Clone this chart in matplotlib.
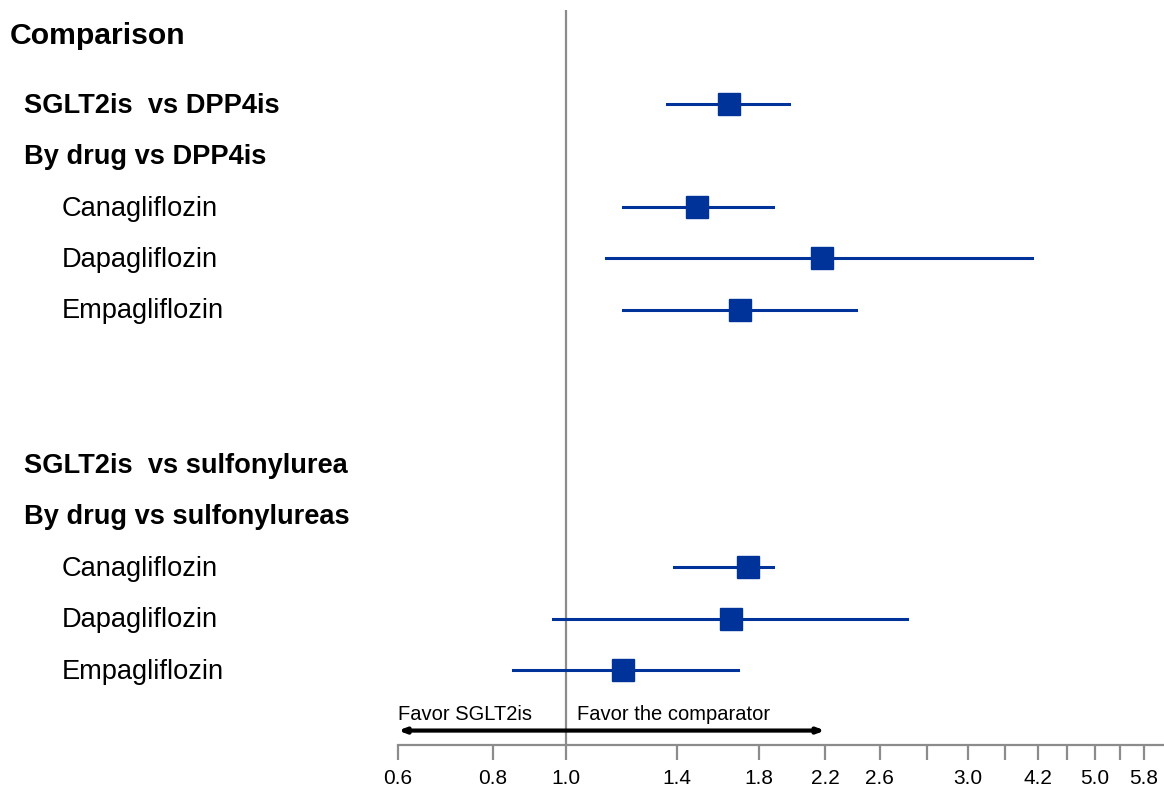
import matplotlib
matplotlib.use("Agg")
from matplotlib import pyplot as plt
from matplotlib import transforms

plt.rcParams['font.family'] = ['Liberation Sans', 'DejaVu Sans']

# Rows of the forest plot, top to bottom ("" = empty spacer row)
row_labels = ["SGLT2is  vs DPP4is", "By drug vs DPP4is", "Canagliflozin", "Dapagliflozin",
              "Empagliflozin", "", "", "SGLT2is  vs sulfonylurea", "By drug vs sulfonylureas",
              "Canagliflozin", "Dapagliflozin", "Empagliflozin"]
row_bold = [True, True, False, False, False, False, False, True, True, False, False, False]

# Estimates (None = header row without an estimate)
point_est = [1.64, None, 1.49, 2.18, 1.70, None, None, None, None, 1.74, 1.65, 1.19]
ci_low = [1.36, None, 1.19, 1.13, 1.19, None, None, None, None, 1.39, 0.96, 0.85]
ci_high = [1.97, None, 1.88, 4.13, 2.42, None, None, None, None, 1.88, 2.82, 1.69]

tick_values = [0.6, 0.8, 1.0, 1.4, 1.8, 2.2, 2.6, 3.0, 3.4, 3.8, 4.2, 4.6, 5.0, 5.4, 5.8]
tick_labels = ["0.6", "0.8", "1.0", "1.4", "1.8", "2.2", "2.6", "", "3.0", "", "4.2", "", "5.0", "", "5.8"]

blue = "#003399"
gray = "#8c8c8c"

fig = plt.figure(figsize=(11.64, 7.88), dpi=100)
ax = fig.add_axes([0.342, 0.0546, 0.657, 0.933])
ax.set_xscale("log")
ax.set_xlim(0.6, 6.15)
ax.set_ylim(12.45, -1.83)

# reference line at 1
ax.axvline(1.0, color=gray, lw=1.6, zorder=1)

# confidence intervals and point estimates
for i, est in enumerate(point_est):
    if est is None:
        continue
    ax.plot([ci_low[i], ci_high[i]], [i, i], color=blue, lw=2.2, zorder=2)
    ax.plot(est, i, marker="s", ms=16, color=blue, zorder=3)

# row labels on the left, placed in figure x / data y
trans = transforms.blended_transform_factory(fig.transFigure, ax.transData)
for i, lab in enumerate(row_labels):
    if not lab:
        continue
    if row_bold[i]:
        ax.text(0.0206, i + 0.03, lab, transform=trans, fontsize=19.6, fontweight="bold",
                va="center", ha="left")
    else:
        ax.text(0.0533, i + 0.03, lab, transform=trans, fontsize=19.6, va="center", ha="left")
ax.text(0.0086, -1.32, "Comparison", transform=trans, fontsize=21.7, fontweight="bold",
        va="center", ha="left")

# favour arrow
ax.annotate("", xy=(0.6, 12.17), xytext=(2.2, 12.17),
            arrowprops=dict(arrowstyle="<|-|>,head_length=0.4,head_width=0.15",
                            color="black", lw=3, shrinkA=0, shrinkB=0),
            annotation_clip=False)
ax.text(0.6, 11.86, "Favor SGLT2is", fontsize=14.5, va="center", ha="left")
ax.annotate("Favor the comparator", xy=(1.0, 11.86), xytext=(8, 0),
            textcoords="offset points", fontsize=14.5, va="center", ha="left")

# axis styling
for side in ["left", "top", "right"]:
    ax.spines[side].set_visible(False)
ax.spines["bottom"].set_color(gray)
ax.spines["bottom"].set_linewidth(1.6)
ax.set_yticks([])
ax.xaxis.set_minor_locator(matplotlib.ticker.NullLocator())
ax.set_xticks(tick_values)
ax.set_xticklabels(tick_labels)
ax.tick_params(axis="x", length=11, width=1.6, color=gray, labelsize=15, pad=6)

fig.savefig("out.png", dpi=100)
